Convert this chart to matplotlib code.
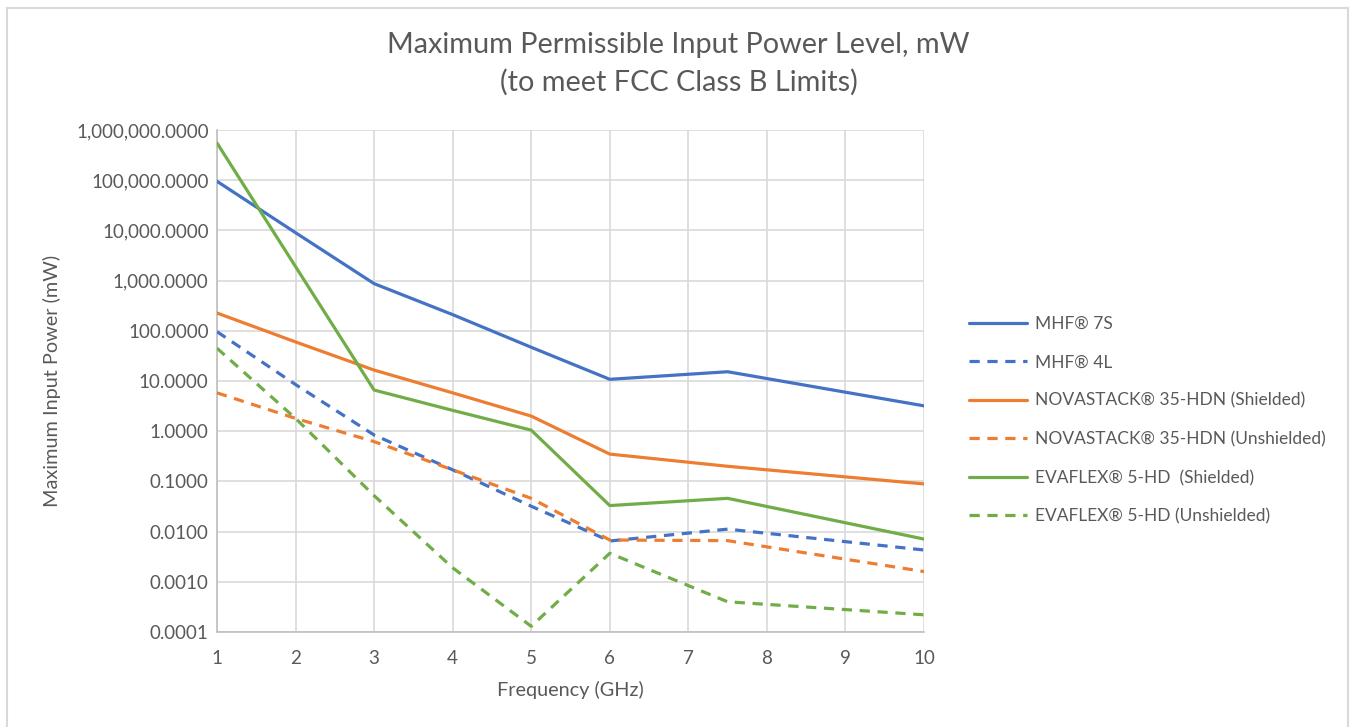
import matplotlib
matplotlib.use("Agg")
import matplotlib.pyplot as plt
from matplotlib.lines import Line2D
from matplotlib.ticker import FixedLocator, FixedFormatter

plt.rcParams['font.family'] = ['Lato', 'DejaVu Sans']

freq = [1, 2, 3, 4, 5, 6, 7.5, 10]
mhf7s = [95000, 9000, 870, 210, 47, 10.8, 15.3, 3.2]
mhf4l = [96, 8.5, 0.84, 0.17, 0.032, 0.0065, 0.0112, 0.0043]
nova_sh = [226, 60, 16.5, 5.8, 2.0, 0.35, 0.2, 0.089]
nova_un = [5.8, 1.8, 0.62, 0.17, 0.046, 0.0068, 0.0066, 0.0016]
eva_sh = [550000, 1900, 6.6, 2.6, 1.05, 0.033, 0.046, 0.0071]
eva_un = [45, 1.8, 0.052, 0.0019, 0.00013, 0.0037, 0.0004, 0.00022]

labels = ["MHF® 7S", "MHF® 4L", "NOVASTACK® 35-HDN (Shielded)",
          "NOVASTACK® 35-HDN (Unshielded)", "EVAFLEX® 5-HD  (Shielded)",
          "EVAFLEX® 5-HD (Unshielded)"]
series = [mhf7s, mhf4l, nova_sh, nova_un, eva_sh, eva_un]
colors = ["#4472C4", "#4472C4", "#ED7D31", "#ED7D31", "#70AD47", "#70AD47"]
styles = ["-", (0, (3.2, 2.4)), "-", (0, (3.2, 2.4)), "-", (0, (3.2, 2.4))]

yticks = [1e-4, 1e-3, 1e-2, 1e-1, 1, 10, 100, 1e3, 1e4, 1e5, 1e6]
ytick_labels = ["0.0001", "0.0010", "0.0100", "0.1000", "1.0000", "10.0000",
                "100.0000", "1,000.0000", "10,000.0000", "100,000.0000",
                "1,000,000.0000"]
xticks = list(range(1, 11))

txt = "#595959"
W, H = 1352, 727
fig = plt.figure(figsize=(W / 100, H / 100), dpi=100)
ax = fig.add_axes([217 / W, 1 - 632 / H, (924 - 217) / W, (632 - 130) / H])

handles = []
for y, lab, c, ls in zip(series, labels, colors, styles):
    ln, = ax.plot(freq, y, color=c, linestyle=ls, linewidth=2.3,
                  solid_capstyle='round', dash_capstyle='butt', label=lab, zorder=3)
    handles.append(ln)

ax.set_yscale('log')
ax.set_xlim(1, 10)
ax.set_ylim(1e-4, 1e6)
ax.yaxis.set_major_locator(FixedLocator(yticks))
ax.yaxis.set_major_formatter(FixedFormatter(ytick_labels))
ax.yaxis.set_minor_locator(FixedLocator([]))
ax.set_xticks(xticks)
ax.set_xticklabels([str(x) for x in xticks])
ax.grid(True, color="#D9D9D9", linewidth=1.2, zorder=0)
ax.tick_params(axis='both', length=0, labelsize=13.5, colors=txt)
ax.tick_params(axis='y', pad=6)
ax.tick_params(axis='x', pad=13)
for side in ['top', 'right']:
    ax.spines[side].set_visible(False)
for side in ['left', 'bottom']:
    ax.spines[side].set_color("#BFBFBF")
    ax.spines[side].set_linewidth(1.2)

ax.set_xlabel("Frequency (GHz)", fontsize=14.3, color=txt, labelpad=10)
ax.set_ylabel("Maximum Input Power (mW)", fontsize=14.3, color=txt, labelpad=11)

fig.text(0.502, 1 - 45 / H, "Maximum Permissible Input Power Level, mW",
         ha='center', va='center', fontsize=20.8, color=txt)
fig.text(0.502, 1 - 82 / H, "(to meet FCC Class B Limits)",
         ha='center', va='center', fontsize=20.8, color=txt)

leg = fig.legend(handles=handles, labels=labels, loc='upper left',
                 bbox_to_anchor=(969 / W, 1 - 316 / H), frameon=False,
                 fontsize=12.5, handlelength=3.35, handletextpad=0.45,
                 labelspacing=1.29, borderaxespad=0, borderpad=0)
for t in leg.get_texts():
    t.set_color(txt)

# chart border
fig.add_artist(Line2D([7 / W, 7 / W], [0, 1 - 8 / H], transform=fig.transFigure,
                      color="#D9D9D9", linewidth=1.5))
fig.add_artist(Line2D([1348 / W, 1348 / W], [0, 1 - 8 / H], transform=fig.transFigure,
                      color="#D9D9D9", linewidth=1.5))
fig.add_artist(Line2D([7 / W, 1348 / W], [1 - 8 / H, 1 - 8 / H], transform=fig.transFigure,
                      color="#D9D9D9", linewidth=1.5))

fig.savefig("out.png", dpi=100)
